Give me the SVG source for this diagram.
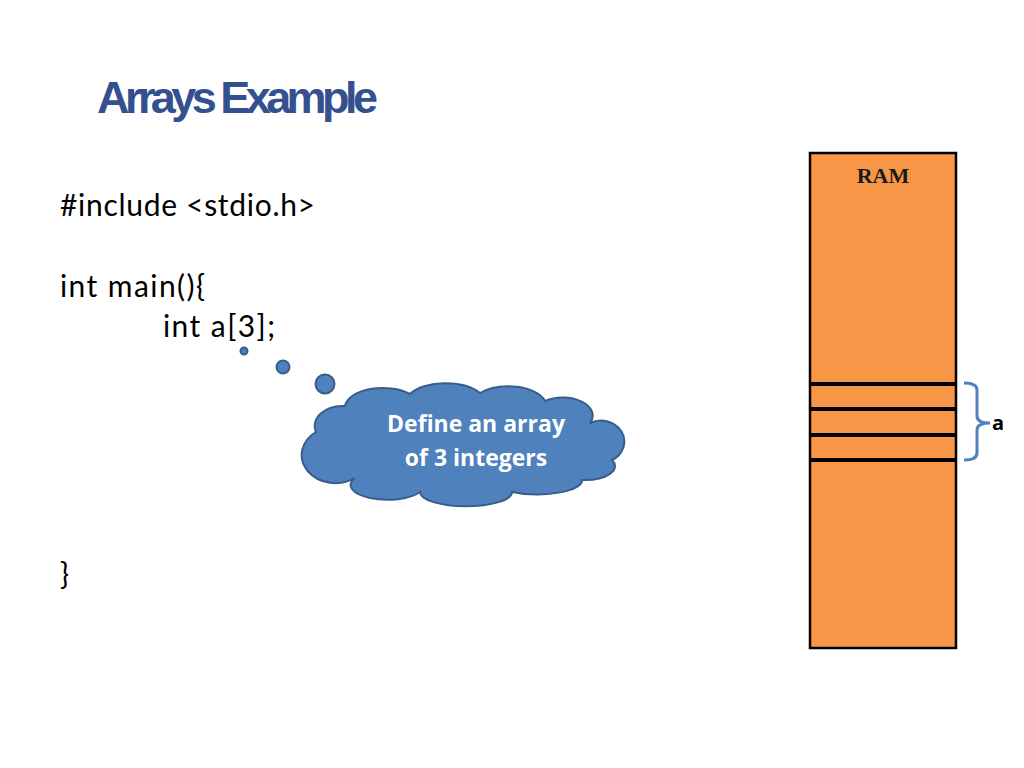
<svg xmlns="http://www.w3.org/2000/svg" width="1024" height="768" viewBox="0 0 1024 768">
<style>
.code{font-family:Lato,"Open Sans","Liberation Sans",sans-serif;font-size:30px;fill:#000}
.cloud{fill:#4F81BD;stroke:#385D8A;stroke-width:2}
.cloudtxt{font-family:"Open Sans","Liberation Sans",sans-serif;font-size:23px;font-weight:bold;fill:#fff;text-anchor:middle}
.slot{stroke:#000;stroke-width:4}
</style>
<rect width="1024" height="768" fill="#fff"/>
<g id="title">
<text x="97" y="113" font-family="Liberation Sans, Arial, sans-serif" font-size="45" font-weight="bold" fill="#34508F" textLength="281" lengthAdjust="spacing">Arrays Example</text>
</g>
<g id="code">
<text class="code" x="60" y="216" textLength="255" lengthAdjust="spacing">#include &lt;stdio.h&gt;</text>
<text class="code" x="60" y="297" textLength="145" lengthAdjust="spacing">int main(){</text>
<text class="code" x="163" y="337" textLength="112" lengthAdjust="spacing">int a[3];</text>
<text class="code" x="60" y="585">}</text>
</g>
<g id="thought">
<circle class="cloud" cx="244" cy="351" r="3.5"/>
<circle class="cloud" cx="283" cy="367" r="6.5"/>
<circle class="cloud" cx="325" cy="384" r="9.5"/>
<path class="cloud" d="M 316,432 A 28,20 0 0 1 345,406 A 38,20 0 0 1 410,394 A 40,20 0 0 1 480,393 A 38,20 0 0 1 545,401 A 30,18 0 0 1 590,423 A 20,18 0 0 1 612,460 A 30,14 0 0 1 582,480 A 45,14 0 0 1 512,492 A 45,14 0 0 1 420,492 A 35,14 0 0 1 355,478 A 24,20 0 0 1 316,432 Z"/>
<text class="cloudtxt" x="476" y="432">Define an array</text>
<text class="cloudtxt" x="476" y="466">of 3 integers</text>
</g>
<g id="ram">
<rect x="810" y="153" width="146" height="495" fill="#F79646" stroke="#000" stroke-width="2.5"/>
<text x="883" y="183" font-family="Liberation Serif, Times New Roman, serif" font-size="22" font-weight="bold" fill="#1a1a1a" text-anchor="middle">RAM</text>
<line class="slot" x1="810" y1="384" x2="956" y2="384"/>
<line class="slot" x1="810" y1="409" x2="956" y2="409"/>
<line class="slot" x1="810" y1="435" x2="956" y2="435"/>
<line class="slot" x1="810" y1="460" x2="956" y2="460"/>
</g>
<g id="connectors">
<path d="M 964,383 Q 977,383 977,390 L 977,416 Q 977,423 990,423 Q 977,423 977,430 L 977,453 Q 977,460 964,460" fill="none" stroke="#4F81BD" stroke-width="3"/>
</g>
<g id="label-a">
<text x="992" y="430" font-family="Open Sans, Liberation Sans, sans-serif" font-size="20" font-weight="bold" fill="#000">a</text>
</g>
</svg>
